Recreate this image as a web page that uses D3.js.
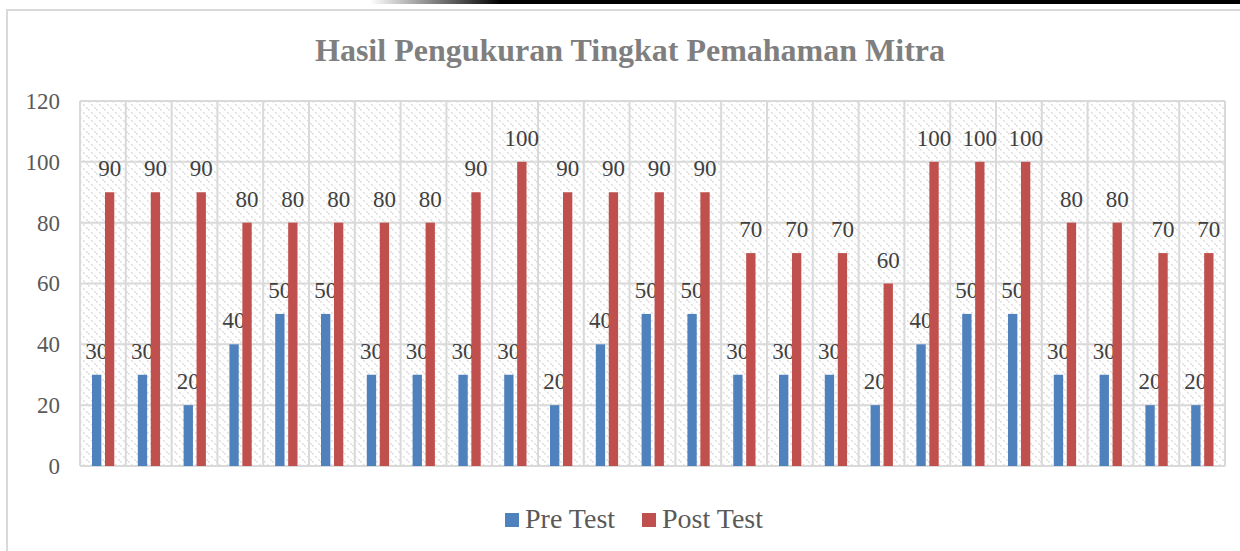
<!DOCTYPE html>
<html>
<head>
<meta charset="utf-8">
<script src="https://cdn.jsdelivr.net/npm/d3@7"></script>
<style>
  body { margin: 0; background: #fff; }
  svg { display: block; }
  svg text { font-family: "Liberation Serif", "Times New Roman", serif; }
</style>
</head>
<body>
<script>
// ukuran gambar
var width = 1240;
var height = 551;

var categories = d3.range(1, 26).map(String);
var preTest  = [30, 30, 20, 40, 50, 50, 30, 30, 30, 30, 20, 40, 50, 50, 30, 30, 30, 20, 40, 50, 50, 30, 30, 20, 20];
var postTest = [90, 90, 90, 80, 80, 80, 80, 80, 90, 100, 90, 90, 90, 90, 70, 70, 70, 60, 100, 100, 100, 80, 80, 70, 70];
var yTicks = [0, 20, 40, 60, 80, 100, 120];
var seriesNames = ['Pre Test', 'Post Test'];
var colors = ['#4f81bd', '#c0504d'];

var font = '"Liberation Serif", "Times New Roman", serif';

var svg = d3.select('body')
  .append('svg')
  .attr('width', width)
  .attr('height', height);

var defs = svg.append('defs');

// garis hitam di atas (sisa scan)
var grad = defs.append('linearGradient').attr('id', 'topfade');
grad.append('stop').attr('offset', '0%').attr('stop-color', '#fff');
grad.append('stop').attr('offset', '15%').attr('stop-color', '#000');
grad.append('stop').attr('offset', '100%').attr('stop-color', '#000');
svg.append('rect')
  .attr('x', 370).attr('y', 0)
  .attr('width', 870).attr('height', 4)
  .attr('fill', 'url(#topfade)');

// pola arsiran latar
var pat = defs.append('pattern')
  .attr('id', 'hatch')
  .attr('patternUnits', 'userSpaceOnUse')
  .attr('width', 8).attr('height', 8);
pat.append('rect').attr('width', 8).attr('height', 8).attr('fill', '#fff');
pat.append('path')
  .attr('d', 'M0,0 L8,8 M-8,0 L8,16 M0,-8 L16,8')
  .attr('stroke', '#dcdcdc')
  .attr('stroke-width', 1.3)
  .attr('stroke-dasharray', '2.2,2.2');

// bingkai chart
svg.append('rect')
  .attr('x', 7).attr('y', 10)
  .attr('width', 1250).attr('height', 560)
  .attr('fill', '#fff')
  .attr('stroke', '#d9d9d9')
  .attr('stroke-width', 2);

var margin = { left: 80, right: 15, top: 101, bottom: 85 };
var plotW = width - margin.left - margin.right;
var plotH = height - margin.top - margin.bottom;

var g = svg.append('g')
  .attr('transform', 'translate(' + margin.left + ',' + margin.top + ')');

var x0 = d3.scaleBand()
  .domain(categories)
  .range([0, plotW]);

var x1 = d3.scaleBand()
  .domain(seriesNames)
  .range([12, 34.3])
  .paddingInner(0.28);

var y = d3.scaleLinear()
  .domain([0, 120])
  .range([plotH, 0]);

g.append('rect')
  .attr('width', plotW)
  .attr('height', plotH)
  .attr('fill', 'url(#hatch)');

// garis grid horizontal
g.selectAll('.hgrid')
  .data(yTicks)
  .enter()
  .append('line')
  .attr('x1', 0).attr('x2', plotW)
  .attr('y1', function(d){ return y(d); })
  .attr('y2', function(d){ return y(d); })
  .attr('stroke', '#d9d9d9')
  .attr('stroke-width', 2);

// garis grid vertikal
g.selectAll('.vgrid')
  .data(categories.concat(['end']))
  .enter()
  .append('line')
  .attr('x1', function(d, i){ return i * x0.step(); })
  .attr('x2', function(d, i){ return i * x0.step(); })
  .attr('y1', 0).attr('y2', plotH)
  .attr('stroke', '#d9d9d9')
  .attr('stroke-width', 2);

// label sumbu Y
var yAxis = g.append('g')
  .call(d3.axisLeft(y).tickValues(yTicks).tickSize(0).tickPadding(20))
  .attr('font-family', null);
yAxis.select('.domain').remove();
yAxis.selectAll('text')
  .style('font-family', font)
  .style('font-size', '23px')
  .attr('fill', '#595959');

var series = [preTest, postTest];

var groups = g.selectAll('.grp')
  .data(categories)
  .enter()
  .append('g')
  .attr('transform', function(d){ return 'translate(' + x0(d) + ',0)'; });

seriesNames.forEach(function(name, s){
  groups.append('rect')
    .attr('x', x1(name))
    .attr('width', x1.bandwidth())
    .attr('y', function(d, i){ return y(series[s][i]); })
    .attr('height', function(d, i){ return plotH - y(series[s][i]); })
    .attr('fill', colors[s]);

  groups.append('text')
    .attr('x', x1(name) + x1.bandwidth() / 2)
    .attr('y', function(d, i){ return y(series[s][i]) - 16; })
    .attr('text-anchor', 'middle')
    .style('font-family', font)
    .style('font-size', '23px')
    .attr('fill', '#404040')
    .text(function(d, i){ return series[s][i]; });
});

// judul
svg.append('text')
  .attr('x', 630)
  .attr('y', 61)
  .attr('text-anchor', 'middle')
  .style('font-family', font)
  .style('font-weight', 'bold')
  .style('font-size', '32px')
  .attr('fill', '#7f7f7f')
  .text('Hasil Pengukuran Tingkat Pemahaman Mitra');

// legenda
var legendX = [505, 642];
var legend = svg.selectAll('.legend')
  .data(seriesNames)
  .enter()
  .append('g')
  .attr('transform', function(d, i){ return 'translate(' + legendX[i] + ',513)'; });
legend.append('rect')
  .attr('width', 14).attr('height', 14)
  .attr('fill', function(d, i){ return colors[i]; });
legend.append('text')
  .attr('x', 20).attr('y', 15)
  .style('font-family', font)
  .style('font-size', '28px')
  .attr('fill', '#595959')
  .text(function(d){ return d; });
</script>
</body>
</html>
